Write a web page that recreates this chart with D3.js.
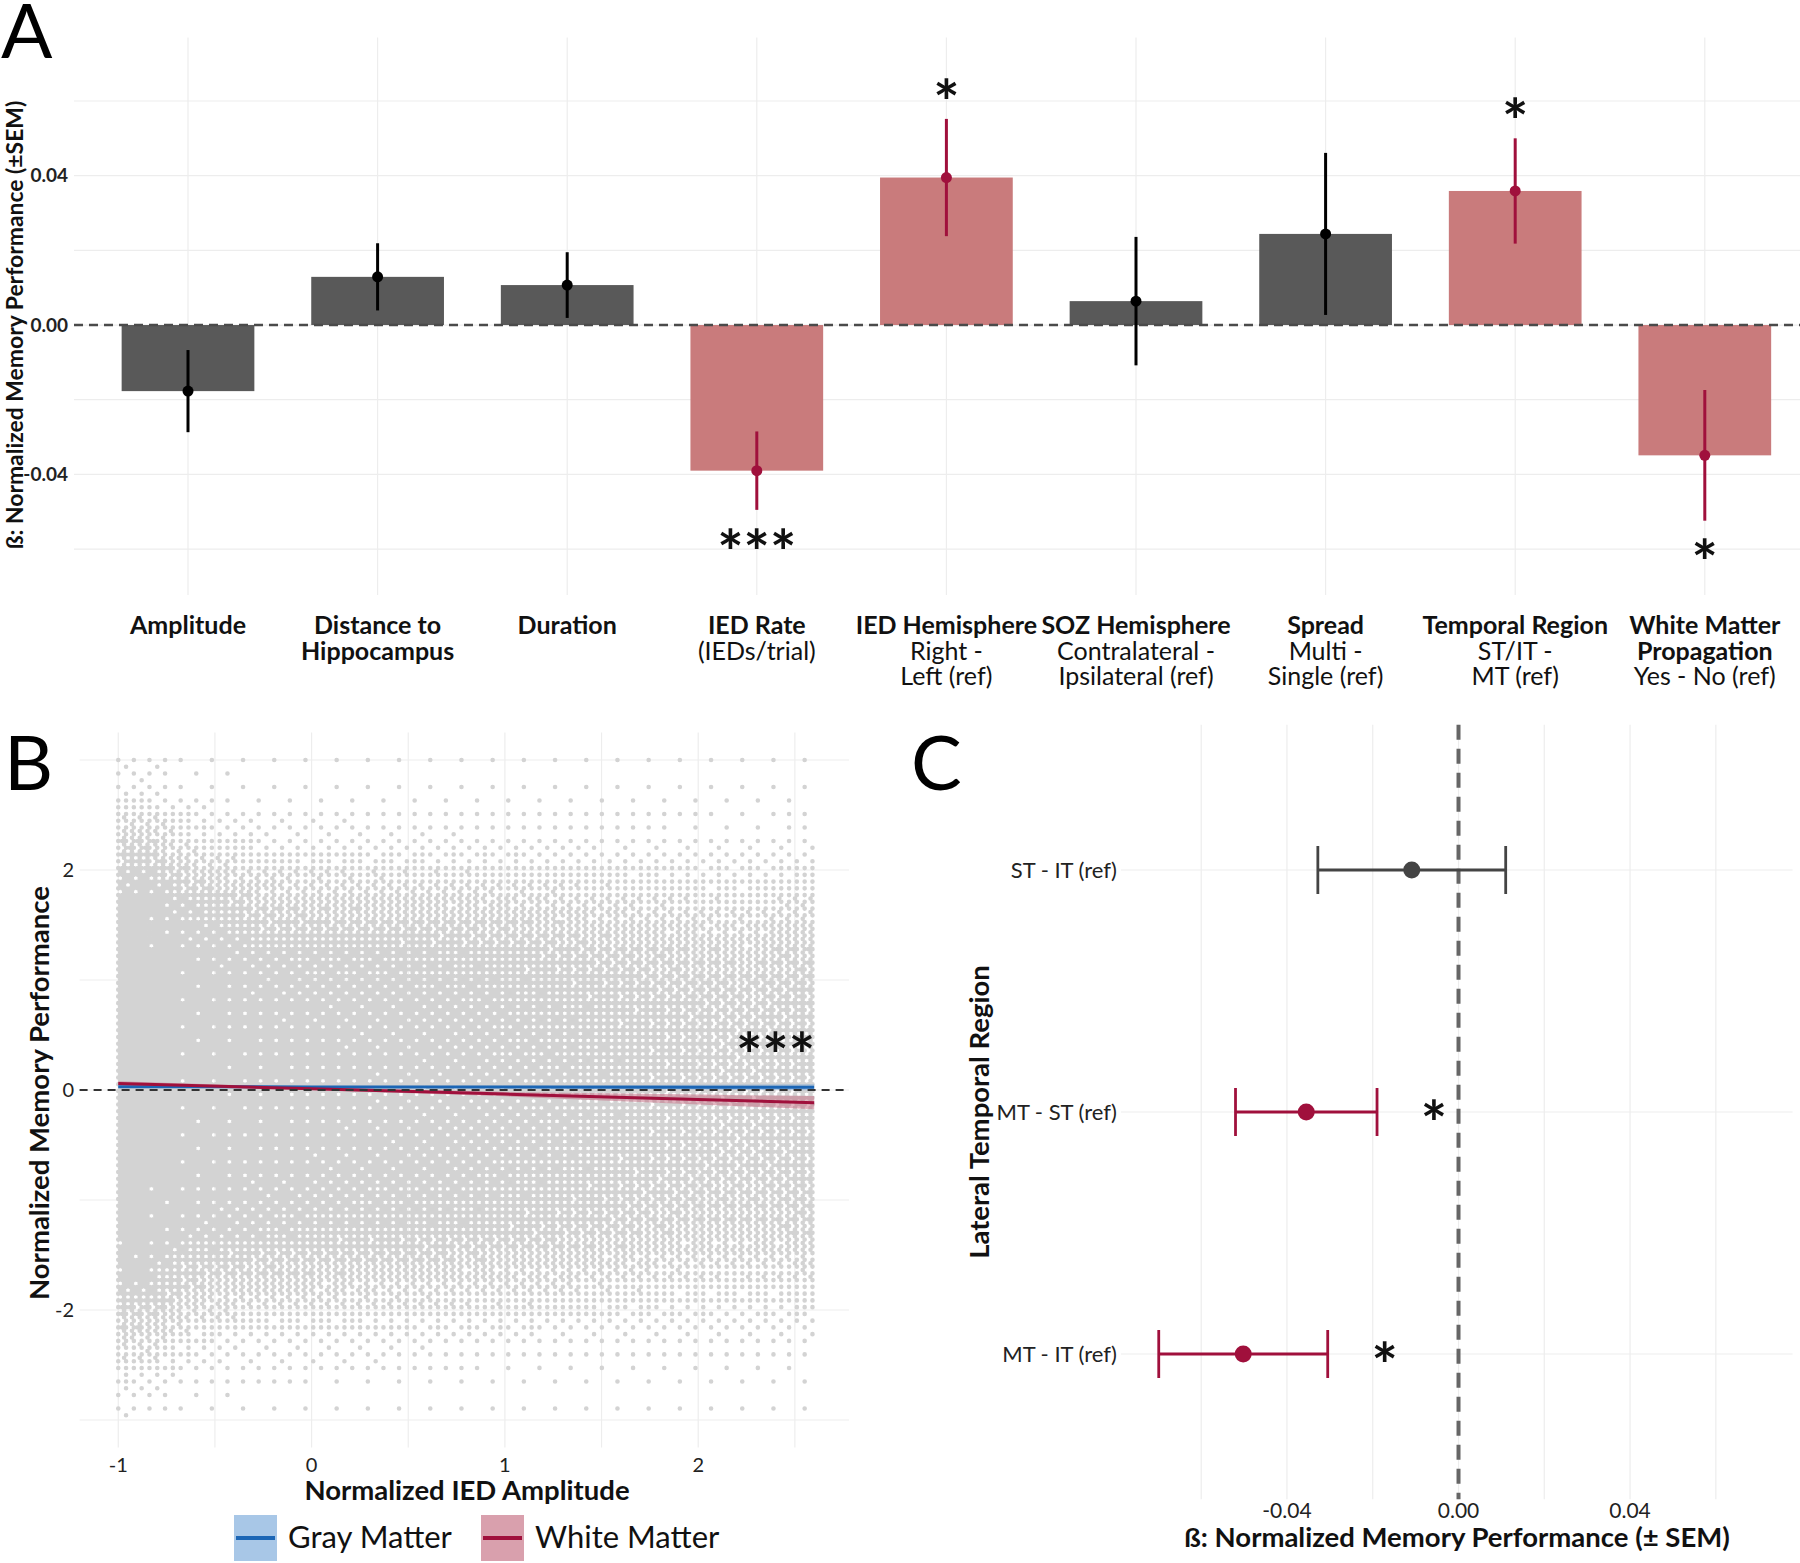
<!DOCTYPE html>
<html><head><meta charset="utf-8">
<script src="https://cdn.jsdelivr.net/npm/d3@7"></script>
<style>body{margin:0;background:#fff} svg{display:block}</style>
</head><body><svg id="chart" width="1800" height="1563"></svg>
<script>
// ================= DATA =================
// Panel A
const aCategories = ["Amplitude","Distance to Hippocampus","Duration","IED Rate","IED Hemisphere","SOZ Hemisphere","Spread","Temporal Region","White Matter Propagation"];
const aLabelBold = [["Amplitude"],["Distance to","Hippocampus"],["Duration"],["IED Rate"],["IED Hemisphere"],["SOZ Hemisphere"],["Spread"],["Temporal Region"],["White Matter","Propagation"]];
const aLabelPlain = [[],[],[],["(IEDs/trial)"],["Right -","Left (ref)"],["Contralateral -","Ipsilateral (ref)"],["Multi -","Single (ref)"],["ST/IT -","MT (ref)"],["Yes - No (ref)"]];
const aBeta = [-0.0177,0.0129,0.0107,-0.0390,0.0395,0.0064,0.0244,0.0359,-0.0349];
const aSem  = [0.0110,0.0090,0.0088,0.0105,0.0157,0.0172,0.0217,0.0141,0.0175];
const aSignificant = [false,false,false,true,true,false,false,true,true];
const aStars = ["","","","***","*","","","*","*"];
const aYTicks = [-0.04,0,0.04];
const aYGrid = [-0.06,-0.04,-0.02,0,0.02,0.04,0.06];

// Panel B: point cloud, estimated share of area covered by points in each (amplitude bin x performance band)
const cloudXEdges = [-1,-0.75,-0.5,0,0.5,1,1.5,2,2.5,2.6];
const cloudYEdges = [3,2.5,2,1.5,1,0.5,0,-0.5,-1,-1.5,-2,-2.5,-3];
const cloudCoverage = [
  [0.10,0.60,1.00,1.00,1.00,1.00,1.00,1.00,1.00,0.95,0.45,0.08],
  [0.03,0.25,0.80,0.97,0.98,0.98,0.98,0.97,0.92,0.58,0.20,0.03],
  [0.02,0.12,0.50,0.85,0.93,0.95,0.95,0.93,0.85,0.50,0.12,0.02],
  [0.02,0.10,0.45,0.82,0.90,0.93,0.93,0.90,0.80,0.45,0.11,0.02],
  [0.02,0.10,0.42,0.78,0.88,0.90,0.90,0.88,0.76,0.42,0.10,0.02],
  [0.02,0.08,0.38,0.68,0.80,0.84,0.84,0.80,0.68,0.36,0.08,0.02],
  [0.015,0.07,0.30,0.58,0.70,0.74,0.74,0.70,0.58,0.30,0.07,0.015],
  [0.015,0.06,0.25,0.52,0.62,0.66,0.66,0.62,0.52,0.25,0.06,0.015],
  [0.015,0.08,0.32,0.60,0.68,0.72,0.72,0.68,0.60,0.30,0.07,0.015]
];
// regression fits (Gray / White matter) with confidence band
const fitX   = [-1,0,1,2,2.6];
const gmFit  = [0.030,0.028,0.027,0.026,0.025];
const gmLo   = [0.018,0.020,0.015,0.004,-0.003];
const gmHi   = [0.042,0.036,0.039,0.048,0.053];
const wmFit  = [0.060,0.011,-0.037,-0.086,-0.115];
const wmLo   = [0.040,-0.001,-0.057,-0.131,-0.175];
const wmHi   = [0.080,0.023,-0.017,-0.041,-0.055];
const bXTicks = [-1,0,1,2];
const bYTicks = [-2,0,2];
const bXGrid = [-1,-0.5,0,0.5,1,1.5,2,2.5];
const bYGrid = [-3,-2,-1,0,1,2,3];
const legendLabels = ["Gray Matter","White Matter"];

// Panel C
const cCats = ["ST - IT (ref)","MT - ST (ref)","MT - IT (ref)"];
const cBeta = [-0.0109,-0.0355,-0.0502];
const cSem  = [0.0219,0.0165,0.0197];
const cSig  = [false,true,true];
const cStars = ["","*","*"];
const cXTicks = [-0.04,0,0.04];
const cXGrid = [-0.06,-0.04,-0.02,0,0.02,0.04,0.06];

// ================= STYLE =================
const FONT = "Lato, 'Open Sans', sans-serif";
const GRID = "#ededed";
const DARKBAR = "#595959";
const REDBAR = "#c97b7c";
const RED = "#a0103c";
const BLUE = "#1c66b5";
const fmt2 = d => d3.format(".2f")(d).replace("\u2212","-");

const svg = d3.select("#chart").style("font-family", FONT);

function star(g, x, cy, txt, fs){
  g.append("text").attr("x", x).attr("y", cy + 0.545*fs).attr("text-anchor","middle")
    .attr("font-size", fs).attr("font-weight","bold").attr("fill","#111").text(txt);
}

// ================= PANEL A =================
{
  const g = svg.append("g");
  const ax = d3.scaleBand().domain(aCategories).range([93.2, 1799.6]).paddingInner(0.3).paddingOuter(0.15);
  const ay = d3.scaleLinear().domain([-0.0723, 0.0770]).range([595, 37.5]);
  const [x0, x1] = [74, 1800];
  g.selectAll(".hg").data(aYGrid).join("line").attr("x1",x0).attr("x2",x1)
    .attr("y1",d=>ay(d)).attr("y2",d=>ay(d)).attr("stroke",GRID).attr("stroke-width",1.2);
  g.selectAll(".vg").data(aCategories).join("line").attr("x1",d=>ax(d)+ax.bandwidth()/2).attr("x2",d=>ax(d)+ax.bandwidth()/2)
    .attr("y1",ay.range()[1]).attr("y2",ay.range()[0]).attr("stroke",GRID).attr("stroke-width",1.2);
  g.selectAll(".bar").data(aCategories).join("rect")
    .attr("x",d=>ax(d)).attr("width",ax.bandwidth())
    .attr("y",(d,i)=>ay(Math.max(0,aBeta[i]))).attr("height",(d,i)=>Math.abs(ay(aBeta[i])-ay(0)))
    .attr("fill",(d,i)=>aSignificant[i]?REDBAR:DARKBAR);
  g.append("line").attr("x1",x0).attr("x2",x1).attr("y1",ay(0)).attr("y2",ay(0))
    .attr("stroke","#4a4a4a").attr("stroke-width",2.5).attr("stroke-dasharray","9,6");
  const cx = d => ax(d)+ax.bandwidth()/2;
  g.selectAll(".err").data(aCategories).join("line").attr("x1",cx).attr("x2",cx)
    .attr("y1",(d,i)=>ay(aBeta[i]-aSem[i])).attr("y2",(d,i)=>ay(aBeta[i]+aSem[i]))
    .attr("stroke",(d,i)=>aSignificant[i]?RED:"#000").attr("stroke-width",3);
  g.selectAll(".pt").data(aCategories).join("circle").attr("cx",cx).attr("cy",(d,i)=>ay(aBeta[i])).attr("r",5.5)
    .attr("fill",(d,i)=>aSignificant[i]?RED:"#000");
  aCategories.forEach((c,i)=>{
    if(!aStars[i]) return;
    const cy = aBeta[i] > 0 ? ay(aBeta[i]+aSem[i]) - 28 : ay(aBeta[i]-aSem[i]) + 31;
    star(g, cx(c), cy, aStars[i], 62);
  });
  g.selectAll(".yt").data(aYTicks).join("text").attr("x",68).attr("y",d=>ay(d)).attr("dy","0.35em")
    .attr("text-anchor","end").attr("font-size",19).attr("font-weight","bold").attr("fill","#222")
    .text(fmt2);
  g.append("text").attr("transform",`translate(15,${ay(0)}) rotate(-90)`).attr("dy","0.35em")
    .attr("text-anchor","middle").attr("font-size",22.9).attr("font-weight","bold").attr("fill","#111")
    .text("ß: Normalized Memory Performance (±SEM)");
  aCategories.forEach((c,i)=>{
    const t = g.append("text").attr("text-anchor","middle").attr("font-size",25).attr("fill","#111");
    let line = 0;
    aLabelBold[i].forEach(s=>{ t.append("tspan").attr("x",cx(c)).attr("y",634+line*25.7).attr("font-weight","bold").text(s); line++; });
    aLabelPlain[i].forEach(s=>{ t.append("tspan").attr("x",cx(c)).attr("y",634+line*25.7).text(s); line++; });
  });
  svg.append("text").attr("x",1).attr("y",57.5).attr("font-size",76).attr("fill","#000").text("A");
}

// ================= PANEL B =================
{
  const g = svg.append("g");
  const bx = d3.scaleLinear().domain([-1.2, 2.78]).range([79.6, 849]);
  const by = d3.scaleLinear().domain([-3.25, 3.25]).range([1447.5, 732.5]);
  g.selectAll(".hg").data(bYGrid).join("line").attr("x1",bx.range()[0]).attr("x2",bx.range()[1])
    .attr("y1",d=>by(d)).attr("y2",d=>by(d)).attr("stroke",GRID).attr("stroke-width",1.2);
  g.selectAll(".vg").data(bXGrid).join("line").attr("x1",d=>bx(d)).attr("x2",d=>bx(d))
    .attr("y1",by.range()[1]).attr("y2",by.range()[0]).attr("stroke",GRID).attr("stroke-width",1.2);
  // point cloud: ordered dither of the estimated coverage field on a hex lattice of point sites
  const bayer = [[0,32,8,40,2,34,10,42],[48,16,56,24,50,18,58,26],[12,44,4,36,14,46,6,38],[60,28,52,20,62,30,54,22],
                 [3,35,11,43,1,33,9,41],[51,19,59,27,49,17,57,25],[15,47,7,39,13,45,5,37],[63,31,55,23,61,29,53,21]];
  const colC = cloudXEdges.slice(0,-1).map((e,i)=>(e+cloudXEdges[i+1])/2);
  const rowC = cloudYEdges.slice(0,-1).map((e,i)=>(e+cloudYEdges[i+1])/2);
  function frac(centers, v){
    const n = centers.length, asc = centers[n-1] > centers[0];
    for(let k=0;k<n-1;k++){
      const a = centers[k], b = centers[k+1];
      if(asc ? (v>=a && v<=b) : (v<=a && v>=b)) return k + (v-a)/(b-a);
    }
    return (asc ? v < centers[0] : v > centers[0]) ? 0 : n-1;
  }
  function coverage(xv, yv){
    const fx = frac(colC, xv), fy = frac(rowC, yv);
    const i0 = Math.floor(fx), j0 = Math.floor(fy);
    const i1 = Math.min(i0+1, colC.length-1), j1 = Math.min(j0+1, rowC.length-1);
    const tx = fx - i0, ty = fy - j0;
    const c = cloudCoverage;
    return (1-tx)*((1-ty)*c[i0][j0] + ty*c[i0][j1]) + tx*((1-ty)*c[i1][j0] + ty*c[i1][j1]);
  }
  const kx = bx(1)-bx(0), ky = by(0)-by(1);
  const G = 3.9, R = 2.3;
  const dxs = G/kx, dys = G*0.866/ky;
  const yTop = cloudYEdges[0], yBot = cloudYEdges[cloudYEdges.length-1];
  const xL = cloudXEdges[0], xR = cloudXEdges[cloudXEdges.length-1];
  let path = "";
  const nRows = Math.floor((yTop-yBot)/dys);
  for(let r=0;r<=nRows;r++){
    const yv = yTop - r*dys;
    const off = (r%2) ? dxs/2 : 0;
    const nCols = Math.floor((xR-xL-off)/dxs);
    for(let c=0;c<=nCols;c++){
      const xv = xL + off + c*dxs;
      const thr = (bayer[r%8][c%8] + 0.5)/64;
      if(coverage(xv, yv) > thr){
        const px = bx(xv), py = by(yv);
        path += `M${(px-R).toFixed(2)},${py.toFixed(2)}a${R},${R} 0 1,0 ${2*R},0a${R},${R} 0 1,0 ${-2*R},0`;
      }
    }
  }
  g.append("path").attr("d",path).attr("fill","#d3d3d3");
  const area = (lo,hi)=>d3.area().x((d,i)=>bx(fitX[i])).y0((d,i)=>by(lo[i])).y1((d,i)=>by(hi[i]));
  g.append("path").datum(fitX).attr("d",area(gmLo,gmHi)).attr("fill","#7fa9d6").attr("opacity",0.55);
  g.append("path").datum(fitX).attr("d",area(wmLo,wmHi)).attr("fill","#c46a80").attr("opacity",0.5);
  const ln = arr=>d3.line().x((d,i)=>bx(fitX[i])).y((d,i)=>by(arr[i]));
  g.append("path").datum(fitX).attr("d",ln(gmFit)).attr("fill","none").attr("stroke",BLUE).attr("stroke-width",3);
  g.append("path").datum(fitX).attr("d",ln(wmFit)).attr("fill","none").attr("stroke",RED).attr("stroke-width",3);
  g.append("line").attr("x1",bx.range()[0]).attr("x2",bx.range()[1]).attr("y1",by(0)).attr("y2",by(0))
    .attr("stroke","#333").attr("stroke-width",2.2).attr("stroke-dasharray","8,6");
  star(g, bx(2.4), by(0.42), "***", 62);
  g.selectAll(".xt").data(bXTicks).join("text").attr("x",d=>bx(d)).attr("y",1465).attr("dy","0.35em")
    .attr("text-anchor","middle").attr("font-size",20).attr("fill","#222").text(d=>d);
  g.selectAll(".yt").data(bYTicks).join("text").attr("x",74).attr("y",d=>by(d)).attr("dy","0.35em")
    .attr("text-anchor","end").attr("font-size",20).attr("fill","#222").text(d=>d);
  g.append("text").attr("x",467).attr("y",1490).attr("dy","0.35em").attr("text-anchor","middle")
    .attr("font-size",27.5).attr("font-weight","bold").attr("fill","#111").text("Normalized IED Amplitude");
  g.append("text").attr("transform",`translate(39,1093) rotate(-90)`).attr("dy","0.35em")
    .attr("text-anchor","middle").attr("font-size",27.5).attr("font-weight","bold").attr("fill","#111")
    .text("Normalized Memory Performance");
  const keyX = [234, 481], keyFill = ["#a8c7e7","#d9a0ad"], keyLine = [BLUE, RED];
  legendLabels.forEach((lab,i)=>{
    g.append("rect").attr("x",keyX[i]).attr("y",1515).attr("width",43).attr("height",46).attr("fill",keyFill[i]);
    g.append("line").attr("x1",keyX[i]+2).attr("x2",keyX[i]+41).attr("y1",1538).attr("y2",1538).attr("stroke",keyLine[i]).attr("stroke-width",4);
    g.append("text").attr("x",keyX[i]+54).attr("y",1537).attr("dy","0.35em").attr("font-size",31).attr("fill","#111").text(lab);
  });
  svg.append("text").attr("x",4).attr("y",790).attr("font-size",76).attr("fill","#000").text("B");
}

// ================= PANEL C =================
{
  const g = svg.append("g");
  const cx = d3.scaleLinear().domain([-0.0787, 0.0779]).range([1121, 1792.6]);
  const cy = d3.scalePoint().domain(cCats).range([724.8, 1499.2]).padding(0.6);
  const [yT, yB] = [724.8, 1499.2];
  g.selectAll(".vg").data(cXGrid).join("line").attr("x1",d=>cx(d)).attr("x2",d=>cx(d))
    .attr("y1",yT).attr("y2",yB).attr("stroke",GRID).attr("stroke-width",1.2);
  g.selectAll(".hg").data(cCats).join("line").attr("x1",cx.range()[0]).attr("x2",cx.range()[1])
    .attr("y1",d=>cy(d)).attr("y2",d=>cy(d)).attr("stroke",GRID).attr("stroke-width",1.2);
  g.append("line").attr("x1",cx(0)).attr("x2",cx(0)).attr("y1",yT).attr("y2",yB)
    .attr("stroke","#666").attr("stroke-width",4).attr("stroke-dasharray","15,9");
  cCats.forEach((c,i)=>{
    const col = cSig[i] ? RED : "#444";
    const lo = cx(cBeta[i]-cSem[i]), hi = cx(cBeta[i]+cSem[i]), y = cy(c);
    g.append("line").attr("x1",lo).attr("x2",hi).attr("y1",y).attr("y2",y).attr("stroke",col).attr("stroke-width",2.8);
    [lo,hi].forEach(x=>g.append("line").attr("x1",x).attr("x2",x).attr("y1",y-24).attr("y2",y+24).attr("stroke",col).attr("stroke-width",2.8));
    g.append("circle").attr("cx",cx(cBeta[i])).attr("cy",y).attr("r",8.5).attr("fill",col);
    if(cStars[i]) star(g, hi+57, y, cStars[i], 62);
  });
  g.selectAll(".yt").data(cCats).join("text").attr("x",1117).attr("y",d=>cy(d)).attr("dy","0.35em")
    .attr("text-anchor","end").attr("font-size",22).attr("fill","#222").text(d=>d);
  g.selectAll(".xt").data(cXTicks).join("text").attr("x",d=>cx(d)).attr("y",1511).attr("dy","0.35em")
    .attr("text-anchor","middle").attr("font-size",21).attr("fill","#222").text(fmt2);
  g.append("text").attr("x",1457).attr("y",1537).attr("dy","0.35em").attr("text-anchor","middle")
    .attr("font-size",27.5).attr("font-weight","bold").attr("fill","#111").text("ß: Normalized Memory Performance (± SEM)");
  g.append("text").attr("transform",`translate(979,1112) rotate(-90)`).attr("dy","0.35em")
    .attr("text-anchor","middle").attr("font-size",27.5).attr("font-weight","bold").attr("fill","#111")
    .text("Lateral Temporal Region");
  svg.append("text").attr("x",911).attr("y",790).attr("font-size",76).attr("fill","#000").text("C");
}
</script></body></html>
